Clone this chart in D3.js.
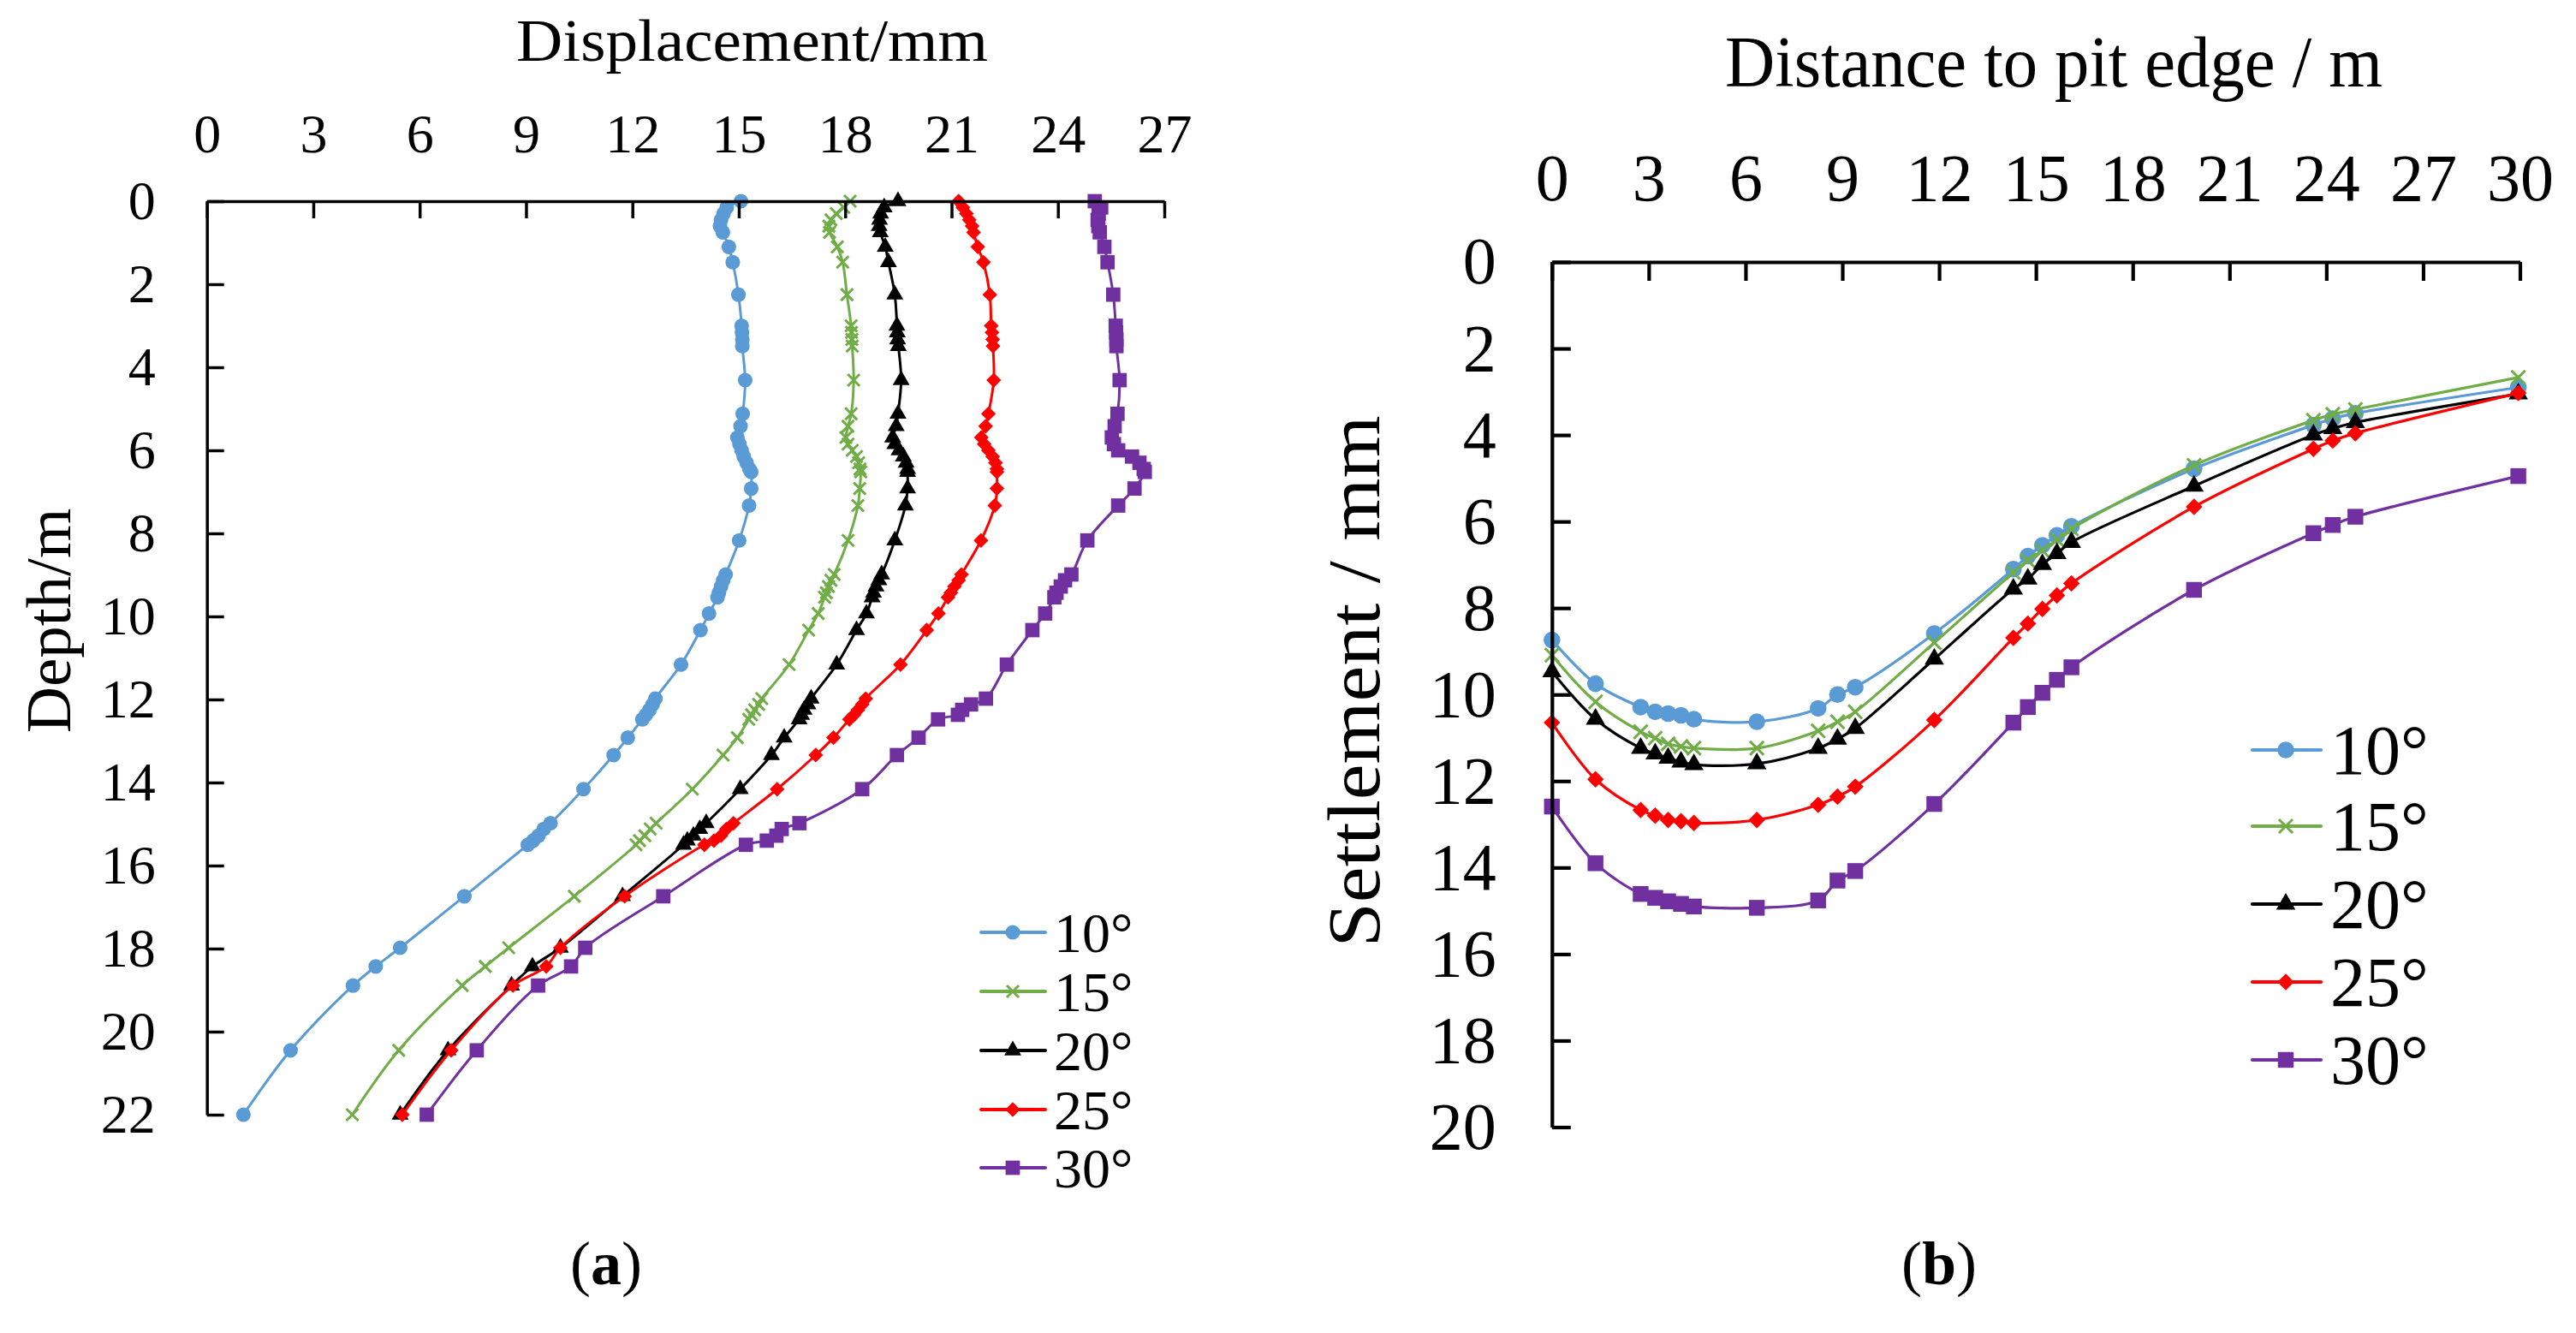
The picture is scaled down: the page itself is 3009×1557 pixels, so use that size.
<!DOCTYPE html>
<html><head><meta charset="utf-8">
<script src="https://cdn.jsdelivr.net/npm/d3@7"></script>
<style>
body{margin:0;background:#fff}
svg text{font-family:"Liberation Serif","Times New Roman",serif;}
</style>
</head><body><svg id="c" width="3009" height="1557" xmlns="http://www.w3.org/2000/svg"></svg>
<script>
// ---------- DATA ----------
const seriesNames = ["10°","15°","20°","25°","30°"];

// (a) lateral displacement vs depth
const depthA = [0,0.15,0.3,0.45,0.6,0.75,1.1,1.47,2.25,3.0,3.16,3.33,3.49,4.31,5.12,5.42,5.69,5.85,6.0,6.15,6.3,6.45,6.52,6.92,7.33,8.17,8.99,9.13,9.28,9.43,9.54,9.93,10.33,11.16,11.98,12.12,12.25,12.37,12.48,12.92,13.34,14.16,14.98,15.12,15.28,15.4,15.5,16.74,17.98,18.43,18.89,20.45,22.0];
const disp10 = [15.06,14.66,14.57,14.5,14.47,14.55,14.72,14.83,14.99,15.08,15.09,15.1,15.1,15.18,15.11,15.05,14.96,15.02,15.08,15.14,15.22,15.3,15.35,15.35,15.29,15.01,14.63,14.56,14.5,14.44,14.4,14.16,13.92,13.37,12.65,12.57,12.48,12.38,12.28,11.87,11.47,10.62,9.69,9.5,9.35,9.2,9.05,7.26,5.45,4.76,4.12,2.36,1.03];
const disp15 = [18.14,17.96,17.75,17.6,17.54,17.56,17.78,17.93,18.05,18.17,18.18,18.19,18.2,18.24,18.17,18.08,18.02,18.08,18.2,18.32,18.38,18.42,18.44,18.41,18.36,18.08,17.69,17.6,17.53,17.47,17.42,17.24,16.97,16.42,15.65,15.56,15.45,15.36,15.28,14.96,14.56,13.69,12.67,12.5,12.35,12.2,12.1,10.36,8.51,7.85,7.2,5.41,4.1];
const disp20 = [19.49,19.1,19.0,18.97,18.96,18.99,19.13,19.22,19.4,19.46,19.47,19.48,19.5,19.58,19.49,19.44,19.34,19.4,19.52,19.64,19.72,19.76,19.76,19.76,19.7,19.4,19.03,18.95,18.87,18.8,18.76,18.6,18.32,17.76,17.04,16.95,16.84,16.77,16.7,16.28,15.92,15.04,14.08,13.9,13.72,13.55,13.44,11.72,9.97,9.18,8.59,6.8,5.45];
const disp25 = [21.2,21.32,21.42,21.5,21.58,21.62,21.74,21.9,22.08,22.12,22.14,22.16,22.17,22.19,22.04,21.96,21.84,21.92,22.04,22.16,22.24,22.28,22.28,22.28,22.22,21.83,21.28,21.2,21.08,20.98,20.9,20.63,20.3,19.56,18.58,18.48,18.36,18.25,18.12,17.67,17.17,16.08,14.85,14.65,14.5,14.3,14.03,11.78,9.97,9.57,8.63,6.89,5.51];
const disp30 = [25.04,25.22,25.15,25.12,25.14,25.18,25.31,25.4,25.56,25.63,25.64,25.65,25.65,25.74,25.68,25.6,25.52,25.58,25.7,26.09,26.3,26.42,26.45,26.16,25.7,24.83,24.38,24.2,24.08,23.96,23.9,23.64,23.28,22.56,21.97,21.55,21.3,21.18,20.62,20.07,19.46,18.48,16.71,16.21,16.06,15.79,15.2,12.87,10.67,10.27,9.34,7.61,6.2];

// (b) ground settlement vs distance to pit edge
const distB = [0,1.35,2.75,3.2,3.6,4.0,4.4,6.35,8.25,8.85,9.4,11.85,14.3,14.75,15.2,15.65,16.1,19.9,23.6,24.2,24.9,29.95];
const settle10 = [8.74,9.75,10.29,10.4,10.44,10.48,10.57,10.63,10.32,10.0,9.83,8.59,7.1,6.8,6.55,6.32,6.11,4.78,3.77,3.62,3.5,2.9];
const settle15 = [9.09,10.17,10.86,11.01,11.14,11.2,11.24,11.24,10.84,10.63,10.4,8.8,7.18,6.9,6.67,6.42,6.17,4.7,3.66,3.52,3.41,2.67];
const settle20 = [9.47,10.57,11.24,11.37,11.47,11.56,11.62,11.6,11.24,11.03,10.78,9.18,7.56,7.33,6.99,6.74,6.48,5.18,4.0,3.85,3.71,3.05];
const settle25 = [10.65,11.96,12.67,12.8,12.9,12.93,12.97,12.9,12.55,12.36,12.13,10.59,8.69,8.36,8.02,7.71,7.43,5.66,4.32,4.13,3.96,3.03];
const settle30 = [12.59,13.9,14.61,14.7,14.78,14.84,14.9,14.93,14.76,14.3,14.08,12.53,10.65,10.29,9.96,9.66,9.37,7.58,6.27,6.08,5.89,4.95];

const xTicksA = [0,3,6,9,12,15,18,21,24,27];
const yTicksA = [0,2,4,6,8,10,12,14,16,18,20,22];
const xTicksB = [0,3,6,9,12,15,18,21,24,27,30];
const yTicksB = [0,2,4,6,8,10,12,14,16,18,20];

// ---------- STYLE ----------
const FONT = '"Liberation Serif", "Times New Roman", serif';
const colors = ["#5B9BD5","#70AD47","#000000","#FF0000","#7030A0"];
const symTypes = [d3.symbolCircle, d3.symbolTimes, d3.symbolTriangle, d3.symbolDiamond2, d3.symbolSquare];
const symSizeA = [230, 130, 170, 190, 280];
const symSizeB = [300, 170, 220, 240, 340];

const svg = d3.select("#c");
svg.append("rect").attr("width",3009).attr("height",1557).attr("fill","#fff");

function styleAxis(g, fs, sw){
  g.attr("font-size", fs).style("font-family", FONT);
  g.selectAll("path.domain").attr("stroke","#000").attr("stroke-width",sw);
  g.selectAll(".tick line").attr("stroke","#000").attr("stroke-width",sw);
  g.selectAll(".tick text").attr("fill","#000").style("font-family", FONT);
}

function drawSeries(g, pts, i, x, y, sizes, lw){
  const line = d3.line()
    .x(d => x(d[0])).y(d => y(d[1]))
    .curve(d3.curveCatmullRom.alpha(0.5));
  g.append("path").datum(pts).attr("d", line)
    .attr("fill","none").attr("stroke", colors[i]).attr("stroke-width", lw)
    .attr("stroke-linejoin","round");
  const sym = d3.symbol().type(symTypes[i]).size(sizes[i]);
  g.selectAll(null).data(pts).enter().append("path")
    .attr("d", sym)
    .attr("transform", d => `translate(${x(d[0])},${y(d[1])})`)
    .attr("fill", i===1 ? "none" : colors[i])
    .attr("stroke", i===1 ? colors[i] : "none")
    .attr("stroke-width", i===1 ? 3 : 0);
}

function drawLegend(g, x0, x1, xm, rows, tx, fs, sizes, lw, baseOff){
  seriesNames.forEach((n,i)=>{
    const yy = rows[i];
    g.append("line").attr("x1",x0).attr("x2",x1).attr("y1",yy).attr("y2",yy)
      .attr("stroke",colors[i]).attr("stroke-width",lw+1).attr("stroke-linecap","round");
    g.append("path").attr("d", d3.symbol().type(symTypes[i]).size(sizes[i]))
      .attr("transform",`translate(${xm},${yy})`)
      .attr("fill", i===1 ? "none" : colors[i])
      .attr("stroke", i===1 ? colors[i] : "none")
      .attr("stroke-width", i===1 ? 3 : 0);
    g.append("text").attr("x",tx).attr("y",yy+baseOff)
      .style("font-family",FONT).attr("font-size",fs).attr("fill","#000").text(n);
  });
}

// ---------- CHART (a) ----------
{
  const x = d3.scaleLinear().domain([0,27]).range([241.7,1360]);
  const y = d3.scaleLinear().domain([0,22]).range([235,1302]);
  const g = svg.append("g");
  const seriesA = [disp10, disp15, disp20, disp25, disp30];
  seriesA.forEach((vals,i)=>{
    const pts = depthA.map((d,k)=>[vals[k], d]);
    drawSeries(g, pts, i, x, y, symSizeA, 3);
  });
  const ax = g.append("g").attr("transform",`translate(0,${y(0)})`)
    .call(d3.axisTop(x).tickValues(xTicksA).tickFormat(d3.format("d")).tickSize(-20).tickSizeOuter(0).tickPadding(57));
  styleAxis(ax, 64, 3.5);
  const ay = g.append("g").attr("transform",`translate(${x(0)},0)`)
    .call(d3.axisLeft(y).tickValues(yTicksA).tickFormat(d3.format("d")).tickSize(-20).tickSizeOuter(0).tickPadding(60));
  styleAxis(ay, 64, 3.5);

  g.append("text").attr("x",878.5).attr("y",71).attr("text-anchor","middle")
    .style("font-family",FONT).attr("font-size",70)
    .attr("textLength",551).attr("lengthAdjust","spacingAndGlyphs").text("Displacement/mm");
  g.append("text").attr("transform","translate(82,725) rotate(-90)").attr("text-anchor","middle")
    .style("font-family",FONT).attr("font-size",75).text("Depth/m");

  drawLegend(g, 1146, 1221, 1183, [1089,1158,1227,1296,1364], 1231, 66, symSizeA, 3, 23);

  const t = g.append("text").attr("x",708).attr("y",1500).attr("text-anchor","middle")
    .style("font-family",FONT).attr("font-size",72);
  t.append("tspan").text("(");
  t.append("tspan").attr("font-weight","bold").text("a");
  t.append("tspan").text(")");
}

// ---------- CHART (b) ----------
{
  const x = d3.scaleLinear().domain([0,30]).range([1812.8,2943.5]);
  const y = d3.scaleLinear().domain([0,20]).range([306,1316.5]);
  const g = svg.append("g");
  const seriesB = [settle10, settle15, settle20, settle25, settle30];
  seriesB.forEach((vals,i)=>{
    const pts = distB.map((d,k)=>[d, vals[k]]);
    drawSeries(g, pts, i, x, y, symSizeB, 3.2);
  });
  const ax = g.append("g").attr("transform",`translate(0,${y(0)})`)
    .call(d3.axisTop(x).tickValues(xTicksB).tickFormat(d3.format("d")).tickSize(-22).tickSizeOuter(0).tickPadding(72));
  styleAxis(ax, 78, 4.2);
  const ay = g.append("g").attr("transform",`translate(${x(0)},0)`)
    .call(d3.axisLeft(y).tickValues(yTicksB).tickFormat(d3.format("d")).tickSize(-22).tickSizeOuter(0).tickPadding(65));
  styleAxis(ay, 78, 4.2);

  g.append("text").attr("x",2399).attr("y",101).attr("text-anchor","middle")
    .style("font-family",FONT).attr("font-size",84)
    .attr("textLength",768).attr("lengthAdjust","spacingAndGlyphs").text("Distance to pit edge / m");
  g.append("text").attr("transform","translate(1611,796) rotate(-90)").attr("text-anchor","middle")
    .style("font-family",FONT).attr("font-size",86)
    .attr("textLength",621).attr("lengthAdjust","spacingAndGlyphs").text("Settlement / mm");

  drawLegend(g, 2631, 2711, 2670, [876,965,1056,1147,1238], 2722, 82, symSizeB, 3.2, 28);

  const t = g.append("text").attr("x",2265).attr("y",1500).attr("text-anchor","middle")
    .style("font-family",FONT).attr("font-size",72);
  t.append("tspan").text("(");
  t.append("tspan").attr("font-weight","bold").text("b");
  t.append("tspan").text(")");
}
</script>
</body></html>
